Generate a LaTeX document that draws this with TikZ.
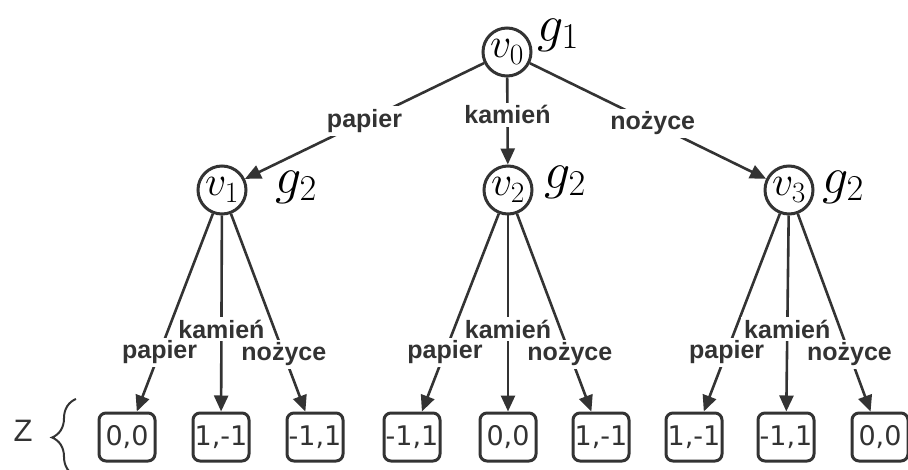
\RequirePackage{fix-cm}
\documentclass[tikz,border=0pt]{standalone}
\usepackage{fontspec}
\usepackage{tikz}
\usetikzlibrary{arrows.meta,decorations.pathreplacing}
\newfontfamily\moveFont{Liberation Sans}
\newfontfamily\payoffFont{DejaVu Sans}
\definecolor{treeGray}{RGB}{51,51,51}
\tikzstyle{gameTree} = [x = 1pt, y = -1pt]
\tikzstyle{stateNode} = [circle, draw=treeGray, line width=3pt, minimum size=48pt, inner sep=0pt, font=\fontsize{42}{46}\selectfont]
\tikzstyle{playerText} = [inner sep=0pt, font=\fontsize{52}{56}\selectfont]
\tikzstyle{leafBox} = [draw=treeGray, line width=3pt, rounded corners=7pt, minimum width=56pt, minimum height=48pt, inner sep=0pt, text=treeGray, font=\payoffFont\fontsize{27}{30}\selectfont]
\tikzstyle{moveEdge} = [draw=treeGray, line width=2.6pt, -{Triangle[length=16pt, width=14pt]}]
\tikzstyle{moveText} = [fill=white, inner sep=3pt, text=treeGray, font=\moveFont\bfseries\fontsize{25}{28}\selectfont]
\newcommand{\moveBranch}[4]{
  \draw[moveEdge] (#1) -- node[moveText, pos=.7] {papier} (#2);
  \draw[moveEdge] (#1) -- node[moveText, pos=.58] {kamień} (#3);
  \draw[moveEdge] (#1) -- node[moveText, pos=.71] {nożyce} (#4);
}

\begin{document}
\begin{tikzpicture}[gameTree]
  \useasboundingbox (0,0) rectangle (908,470);

  \node[stateNode] (v0) at (507,52) {$v_0$};
  \node[stateNode] (v1) at (222,190) {$v_1$};
  \node[stateNode] (v2) at (508,190) {$v_2$};
  \node[stateNode] (v3) at (789,190) {$v_3$};

  \node[playerText] (g0) at (558,35) {$g_1$};
  \node[playerText] (g1) at (296,187) {$g_2$};
  \node[playerText] (g2) at (565,182) {$g_2$};
  \node[playerText] (g3) at (843,187) {$g_2$};

  \foreach \leafName/\leafX/\payoff in {l1/127/{0,0}, l2/221/{1,-1}, l3/315/{-1,1},
      l4/412/{-1,1}, l5/508/{0,0}, l6/601/{1,-1},
      l7/694/{1,-1}, l8/786/{-1,1}, l9/880/{0,0}} {
    \node[leafBox] (\leafName) at (\leafX,437) {\payoff};
  }

  \draw[moveEdge] (v0) -- node[moveText, pos=.5] {papier} (v1);
  \draw[moveEdge] (v0) -- node[moveText, pos=.43] {kamień} (v2);
  \draw[moveEdge] (v0) -- node[moveText, pos=.52] {nożyce} (v3);

  \moveBranch{v1}{l1}{l2}{l3}
  \moveBranch{v2}{l4}{l5}{l6}
  \moveBranch{v3}{l7}{l8}{l9}

  % outcome set
  \node[text=treeGray, font=\moveFont\fontsize{31}{34}\selectfont] (z) at (23,431) {Z};
  \draw[treeGray, line width=2pt, decorate, decoration={brace, amplitude=24pt}] (76,476) -- (76,399);
\end{tikzpicture}
\end{document}
